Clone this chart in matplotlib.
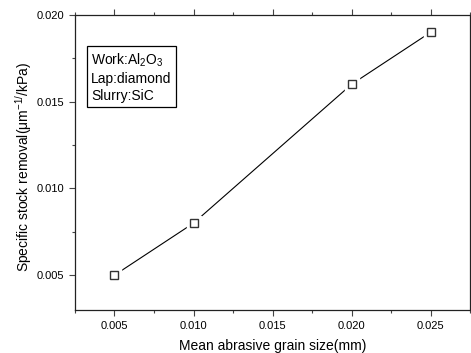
import matplotlib

matplotlib.use("Agg")
import matplotlib.pyplot as plt  # noqa: E402
from matplotlib.ticker import MultipleLocator  # noqa: E402

plt.rcParams["font.family"] = ["Liberation Sans", "DejaVu Sans"]
plt.rcParams["mathtext.fontset"] = "custom"
plt.rcParams["mathtext.rm"] = "Liberation Sans"
plt.rcParams["mathtext.it"] = "Liberation Sans:italic"

grain_size = [0.005, 0.010, 0.020, 0.025]
stock_removal = [0.005, 0.008, 0.016, 0.019]

x_ticks = [0.005, 0.010, 0.015, 0.020, 0.025]
y_ticks = [0.005, 0.010, 0.015, 0.020]

fig = plt.figure(figsize=(4.71, 3.53), dpi=100)
ax = fig.add_axes([0.159, 0.122, 0.8395, 0.836])

ax.plot(grain_size, stock_removal, color="black", linewidth=0.8, zorder=2)
# white halo behind the open squares leaves a small gap in the line
ax.plot(grain_size, stock_removal, linestyle="none", marker="s", markersize=9.5,
        markerfacecolor="white", markeredgecolor="white", zorder=3)
ax.plot(grain_size, stock_removal, linestyle="none", marker="s", markersize=6.2,
        markerfacecolor="white", markeredgecolor="#333333", markeredgewidth=1.0, zorder=4)

ax.set_xlim(0.0025, 0.0275)
ax.set_ylim(0.003, 0.020)
ax.set_xticks(x_ticks, [f"{v:.3f}" for v in x_ticks])
ax.set_yticks(y_ticks, [f"{v:.3f}" for v in y_ticks])
ax.xaxis.set_minor_locator(MultipleLocator(0.0025))
ax.yaxis.set_minor_locator(MultipleLocator(0.0025))
ax.tick_params(which="both", direction="out", top=True, right=True, labelsize=8,
               color="#444444", width=0.8)
ax.tick_params(which="major", length=4, pad=4)
ax.tick_params(which="minor", length=2.5)
for spine in ax.spines.values():
    spine.set_linewidth(0.9)
    spine.set_color("#222222")

ax.set_xlabel("Mean abrasive grain size(mm)", fontsize=10, labelpad=6)
ax.set_ylabel("Specific stock removal(μm$^{-1/}$/kPa)", fontsize=10)
ax.yaxis.set_label_coords(-0.104, 0.485)

ax.text(0.041, 0.875, "Work:Al$_2$O$_3$\nLap:diamond\nSlurry:SiC",
        transform=ax.transAxes, fontsize=10, va="top", ha="left", linespacing=1.25,
        bbox=dict(boxstyle="square,pad=0.3", facecolor="white", edgecolor="black",
                  linewidth=0.9))

fig.savefig("out.png", dpi=100, facecolor="white")
